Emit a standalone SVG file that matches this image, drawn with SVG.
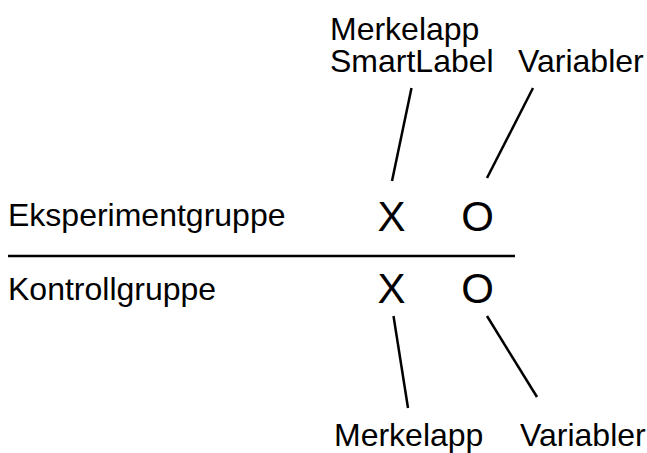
<svg xmlns="http://www.w3.org/2000/svg" width="647" height="453" viewBox="0 0 647 453">
<style>
text{font-family:"Liberation Sans",Arial,Helvetica,sans-serif;fill:#000}
.t{font-size:32px}
.m{font-size:42px;text-anchor:middle}
.c{stroke:#000;stroke-width:2.5;fill:none;stroke-linecap:butt}
</style>
<rect width="647" height="453" fill="#fff"/>
<g id="row-eksperiment">
<text class="t" x="8" y="226">Eksperimentgruppe</text>
<text class="m" x="391.5" y="231">X</text>
<text class="m" x="477.5" y="231">O</text>
</g>
<g id="divider"><line class="c" x1="8" y1="256" x2="515" y2="256" stroke-width="3"/></g>
<g id="row-kontroll">
<text class="t" x="8" y="300">Kontrollgruppe</text>
<text class="m" x="391.5" y="303">X</text>
<text class="m" x="477.5" y="303">O</text>
</g>
<g id="label-top-merkelapp">
<text class="t" x="330" y="40">Merkelapp</text>
<text class="t" x="330" y="72">SmartLabel</text>
</g>
<g id="label-top-variabler"><text class="t" x="518" y="72">Variabler</text></g>
<g id="label-bottom-merkelapp"><text class="t" x="334" y="446">Merkelapp</text></g>
<g id="label-bottom-variabler"><text class="t" x="520" y="446">Variabler</text></g>
<g id="connectors">
<line class="c" x1="411.5" y1="88" x2="392" y2="181"/>
<line class="c" x1="533" y1="88" x2="487" y2="178"/>
<line class="c" x1="393.5" y1="316" x2="408" y2="408"/>
<line class="c" x1="487" y1="316" x2="537" y2="397"/>
</g>
</svg>
